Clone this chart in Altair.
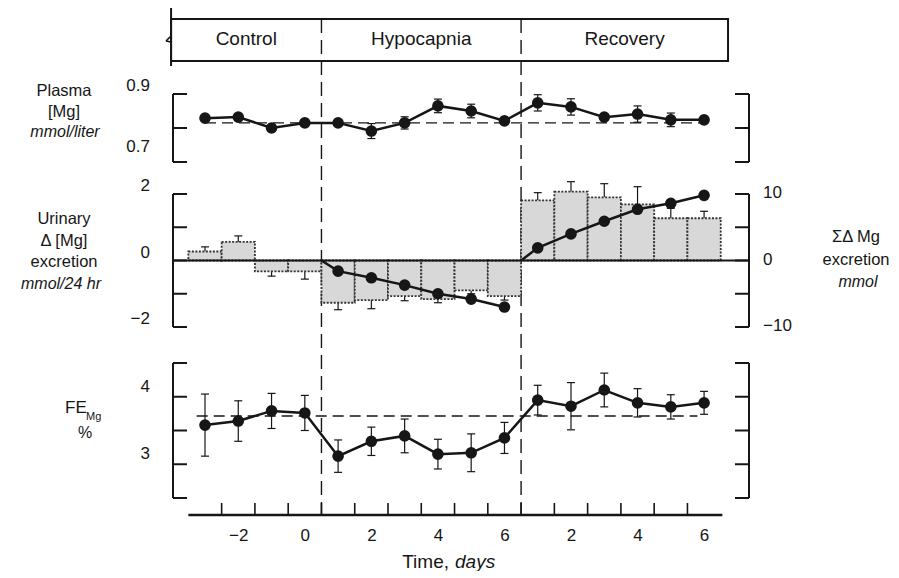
import altair as alt
import pandas as pd

FONT = "Liberation Sans"
INK = "#161616"

# ---------------- data ----------------
control_days = [-3, -2, -1, 0]
hypo_days = [1, 2, 3, 4, 5, 6]
recovery_days = [1, 2, 3, 4, 5, 6]

plasma_mg = [0.829, 0.832, 0.800, 0.815,
             0.815, 0.791, 0.815, 0.865, 0.850, 0.821,
             0.874, 0.862, 0.832, 0.841, 0.824, 0.824]
plasma_se = [0.005, 0.005, 0.008, 0.010,
             0.006, 0.022, 0.018, 0.020, 0.020, 0.008,
             0.024, 0.024, 0.008, 0.024, 0.020, 0.006]
plasma_ref = 0.815

urinary_delta = [0.27, 0.56, -0.33, -0.33,
                 -1.27, -1.19, -1.07, -1.16, -0.90, -1.07,
                 1.81, 2.07, 1.90, 1.69, 1.27, 1.27]
urinary_se = [0.14, 0.18, 0.14, 0.23,
              0.21, 0.26, 0.14, 0.11, 0.10, 0.12,
              0.23, 0.30, 0.41, 0.53, 0.30, 0.21]

cum_hypo = [-1.6, -2.6, -3.7, -5.0, -5.8, -7.0]
cum_recovery = [1.9, 4.0, 5.9, 7.7, 8.6, 9.8]

fe_mg = [3.58, 3.64, 3.79, 3.76,
         3.12, 3.34, 3.42, 3.15, 3.17, 3.39,
         3.95, 3.86, 4.10, 3.91, 3.85, 3.91]
fe_se = [0.46, 0.30, 0.26, 0.26,
         0.24, 0.21, 0.25, 0.22, 0.28, 0.23,
         0.22, 0.35, 0.25, 0.21, 0.18, 0.17]
fe_ref = 3.715

phases = ["Control", "Hypocapnia", "Recovery"]
phase_bounds = [-4.02, 0.5, 6.5, 12.72]

x_label_values = [-2, 0, 2, 4, 6, 8, 10, 12]
x_minor_ticks = [v + 0.5 for v in range(-3, 12)]

plasma_ticks = [0.7, 0.8, 0.9]
plasma_labels = ["0.7", "0.9"]
urinary_ticks = [-2, -1, 0, 1, 2]
urinary_labels = ["\u22122", "0", "2"]
cum_ticks = [-10, -5, 0, 5, 10]
cum_labels = ["\u221210", "0", "10"]
fe_ticks = [2.5, 3.0, 3.5, 4.0, 4.5]
fe_labels = ["3", "4"]

# ---------------- frames ----------------
x_index = control_days + hypo_days + [d + 6 for d in recovery_days]
CAP = 0.12

df = pd.DataFrame({"x": x_index, "plasma": plasma_mg, "pse": plasma_se,
                   "uri": urinary_delta, "use": urinary_se,
                   "fe": fe_mg, "fse": fe_se})
df["cl"] = df["x"] - CAP
df["cr"] = df["x"] + CAP
df["p_lo"] = df["plasma"] - df["pse"]
df["p_hi"] = df["plasma"] + df["pse"]
df["f_lo"] = df["fe"] - df["fse"]
df["f_hi"] = df["fe"] + df["fse"]
df["b0"] = df["x"] - 0.5
df["b1"] = df["x"] + 0.5
df["zero"] = 0.0
df["u_end"] = df["uri"] + df["use"] * df["uri"].apply(lambda v: 1 if v >= 0 else -1)

cum_rows = []
for series, start, xs, vals in [("hypo", 0.5, hypo_days, cum_hypo),
                                ("rec", 6.5, [d + 6 for d in recovery_days], cum_recovery)]:
    cum_rows.append({"series": series, "x": start, "v": 0.0, "pt": False})
    for xx, vv in zip(xs, vals):
        cum_rows.append({"series": series, "x": xx, "v": vv, "pt": True})
cum_df = pd.DataFrame(cum_rows)

W, H = 575, 507
xscale = alt.Scale(domain=[-3.962, 13.32], nice=False, zero=False)
xaxis = alt.Axis(values=x_label_values,
                 labelExpr="datum.value > 6 ? '' + (datum.value - 6) : (datum.value < 0 ? '\u2212' + (-datum.value) : '' + datum.value)",
                 domain=False, ticks=False, tickSize=0, grid=False, labelPadding=12,
                 labelFontSize=17, labelColor=INK, labelFont=FONT, title=None)


def X(f):
    return alt.X(f, type="quantitative", scale=xscale, axis=xaxis)


def Y(f, dom, rng):
    return alt.Y(f, type="quantitative",
                 scale=alt.Scale(domain=dom, range=rng, nice=False, zero=False), axis=None)


P = ([0.7, 0.9], [154, 86])
U = ([-2, 2], [319, 186])
C = ([-10, 10], [319, 186])
F = ([2.5, 4.5], [490, 355])

one = pd.DataFrame({"a": [0]})
layers = []

# ---------------- header box ----------------
box_df = pd.DataFrame({"x0": [phase_bounds[0]], "x1": [phase_bounds[-1]]})
layers.append(alt.Chart(box_df).mark_rect(fill="white", stroke=INK, strokeWidth=2).encode(
    x=X("x0"), x2="x1", y=alt.value(11), y2=alt.value(53)))
layers.append(alt.Chart(box_df).mark_rule(color=INK, strokeWidth=2).encode(
    x=X("x0"), y=alt.value(0), y2=alt.value(58)))
layers.append(alt.Chart(one).mark_rule(color=INK, strokeWidth=1.6).encode(
    x=alt.value(-2), x2=alt.value(-7), y=alt.value(28), y2=alt.value(33)))
layers.append(alt.Chart(one).mark_rule(color=INK, strokeWidth=1.6).encode(
    x=alt.value(-7), x2=alt.value(-2), y=alt.value(33), y2=alt.value(34)))
ph_df = pd.DataFrame({"phase": phases,
                      "mid": [(phase_bounds[i] + phase_bounds[i + 1]) / 2 for i in range(3)]})
layers.append(alt.Chart(ph_df).mark_text(fontSize=19, color=INK, baseline="middle").encode(
    x=X("mid"), y=alt.value(31), text="phase:N"))

# phase boundaries (dashed verticals)
bd_df = pd.DataFrame({"b": phase_bounds[1:3]})
layers.append(alt.Chart(bd_df).mark_rule(color=INK, strokeWidth=1.4, strokeDash=[14, 7]).encode(
    x=X("b"), y=alt.value(11), y2=alt.value(507)))


# ---------------- brackets ----------------
def bracket(ticks, dom_rng, left=True):
    dom, rng = dom_rng
    tdf = pd.DataFrame({"t": ticks})
    edf = pd.DataFrame({"lo": [min(ticks)], "hi": [max(ticks)]})
    xe = 0 if left else 576
    xi = 14 if left else 562
    out = [alt.Chart(edf).mark_rule(color=INK, strokeWidth=2).encode(
        x=alt.value(xe), y=Y("lo", dom, rng), y2="hi"),
        alt.Chart(tdf).mark_rule(color=INK, strokeWidth=2).encode(
        x=alt.value(xe), x2=alt.value(xi), y=Y("t", dom, rng))]
    return out


def tick_labels(vals, labels, dom_rng, left=True, dy=-10):
    ldf = pd.DataFrame({"t": vals, "lab": labels})
    return alt.Chart(ldf).mark_text(fontSize=17, color=INK, align="right" if left else "left",
                                    baseline="middle", dy=dy).encode(
        x=alt.value(-23 if left else 590), y=Y("t", *dom_rng), text="lab:N")


layers += bracket(plasma_ticks, P, True) + bracket(plasma_ticks, P, False)
layers += bracket(urinary_ticks, U, True) + bracket(cum_ticks, C, False)
layers += bracket(fe_ticks, F, True) + bracket(fe_ticks, F, False)
layers.append(tick_labels([0.9], plasma_labels[1:], P, True, dy=-8))
layers.append(tick_labels([0.7], plasma_labels[:1], P, True, dy=-15))
layers.append(tick_labels([-2, 0, 2], urinary_labels, U, True, dy=-8))
layers.append(tick_labels([-10, 0, 10], cum_labels, C, False, dy=-1))
layers.append(tick_labels([3, 4], fe_labels, F, True, dy=-10))

# ---------------- plasma panel ----------------
ref_p = pd.DataFrame({"a": [-3.0], "b": [12.0], "v": [plasma_ref]})
layers.append(alt.Chart(ref_p).mark_rule(color=INK, strokeWidth=1.4, strokeDash=[11, 6]).encode(
    x=X("a"), x2="b", y=Y("v", *P)))
layers.append(alt.Chart(df).mark_rule(color=INK, strokeWidth=1.2).encode(
    x=X("x"), y=Y("p_lo", *P), y2="p_hi"))
layers.append(alt.Chart(df).mark_rule(color=INK, strokeWidth=1.2).encode(
    x=X("cl"), x2="cr", y=Y("p_lo", *P)))
layers.append(alt.Chart(df).mark_rule(color=INK, strokeWidth=1.2).encode(
    x=X("cl"), x2="cr", y=Y("p_hi", *P)))
layers.append(alt.Chart(df).mark_line(color=INK, strokeWidth=2.5).encode(
    x=X("x"), y=Y("plasma", *P)))
layers.append(alt.Chart(df).mark_circle(color=INK, size=135, opacity=1).encode(
    x=X("x"), y=Y("plasma", *P)))

# ---------------- urinary panel ----------------
layers.append(alt.Chart(df).mark_rule(color=INK, strokeWidth=1.2).encode(
    x=X("x"), y=Y("uri", *U), y2="u_end"))
layers.append(alt.Chart(df).mark_rule(color=INK, strokeWidth=1.2).encode(
    x=X("cl"), x2="cr", y=Y("u_end", *U)))
layers.append(alt.Chart(df).mark_bar(fill="#d8d8d8", stroke="#333333", strokeWidth=1.8,
                                     strokeDash=[2, 1.5]).encode(
    x=X("b0"), x2="b1", y=Y("uri", *U), y2="zero"))
zl = pd.DataFrame({"z": [0.0]})
layers.append(alt.Chart(zl).mark_rule(color=INK, strokeWidth=2).encode(
    x=alt.value(0), x2=alt.value(576), y=Y("z", *U)))
layers.append(alt.Chart(cum_df).mark_line(color=INK, strokeWidth=2.5).encode(
    x=X("x"), y=Y("v", *C), detail="series:N"))
layers.append(alt.Chart(cum_df[cum_df["pt"]]).mark_circle(color=INK, size=135, opacity=1).encode(
    x=X("x"), y=Y("v", *C)))

# ---------------- FE panel ----------------
ref_f = pd.DataFrame({"a": [-3.25], "b": [11.8], "v": [fe_ref]})
layers.append(alt.Chart(ref_f).mark_rule(color=INK, strokeWidth=1.4, strokeDash=[11, 6]).encode(
    x=X("a"), x2="b", y=Y("v", *F)))
layers.append(alt.Chart(df).mark_rule(color=INK, strokeWidth=1.2).encode(
    x=X("x"), y=Y("f_lo", *F), y2="f_hi"))
layers.append(alt.Chart(df).mark_rule(color=INK, strokeWidth=1.2).encode(
    x=X("cl"), x2="cr", y=Y("f_lo", *F)))
layers.append(alt.Chart(df).mark_rule(color=INK, strokeWidth=1.2).encode(
    x=X("cl"), x2="cr", y=Y("f_hi", *F)))
layers.append(alt.Chart(df).mark_line(color=INK, strokeWidth=2.5).encode(
    x=X("x"), y=Y("fe", *F)))
layers.append(alt.Chart(df).mark_circle(color=INK, size=135, opacity=1).encode(
    x=X("x"), y=Y("fe", *F)))

# ---------------- bottom axis line & inward ticks ----------------
ax_df = pd.DataFrame({"a": [-3.5], "b": [12.55]})
layers.append(alt.Chart(ax_df).mark_rule(color=INK, strokeWidth=2.5).encode(
    x=X("a"), x2="b", y=alt.value(507)))
mt_df = pd.DataFrame({"t": x_minor_ticks})
layers.append(alt.Chart(mt_df).mark_rule(color=INK, strokeWidth=1.6).encode(
    x=X("t"), y=alt.value(507), y2=alt.value(495)))

# ---------------- titles (text) ----------------
texts = [
    ("Plasma", -109, 83, "normal", 16.5, "center"),
    ("[Mg]", -109, 104, "normal", 16.5, "center"),
    ("mmol/liter", -108, 124, "italic", 16, "center"),
    ("Urinary", -109, 211, "normal", 16.5, "center"),
    ("\u0394 [Mg]", -109, 233, "normal", 16.5, "center"),
    ("excretion", -109, 254, "normal", 16.5, "center"),
    ("mmol/24 hr", -112, 276, "italic", 16, "center"),
    ("FE", -108, 400, "normal", 17, "left"),
    ("Mg", -87, 409, "normal", 11, "left"),
    ("%", -88, 425, "normal", 16, "center"),
    ("\u03a3\u0394 Mg", 683, 229, "normal", 16.5, "center"),
    ("excretion", 683, 252, "normal", 16.5, "center"),
    ("mmol", 685, 274, "italic", 16, "center"),
    ("Time,", 276, 554, "normal", 19, "right"),
    ("days", 282, 554, "italic", 19, "left"),
]
for txt, tx, ty, style, fs, al in texts:
    layers.append(alt.Chart(one).mark_text(text=txt, fontSize=fs, fontStyle=style, color=INK,
                                           align=al, baseline="middle").encode(
        x=alt.value(tx), y=alt.value(ty)))

chart = alt.layer(*layers).resolve_scale(y="independent").properties(
    width=W, height=H,
    autosize=alt.AutoSizeParams(type="none"),
    padding={"left": 165, "top": 0, "right": 143, "bottom": 56},
).configure(font=FONT).configure_view(strokeWidth=0)

chart.save("out.html", embed_options={"renderer": "svg", "actions": False})
